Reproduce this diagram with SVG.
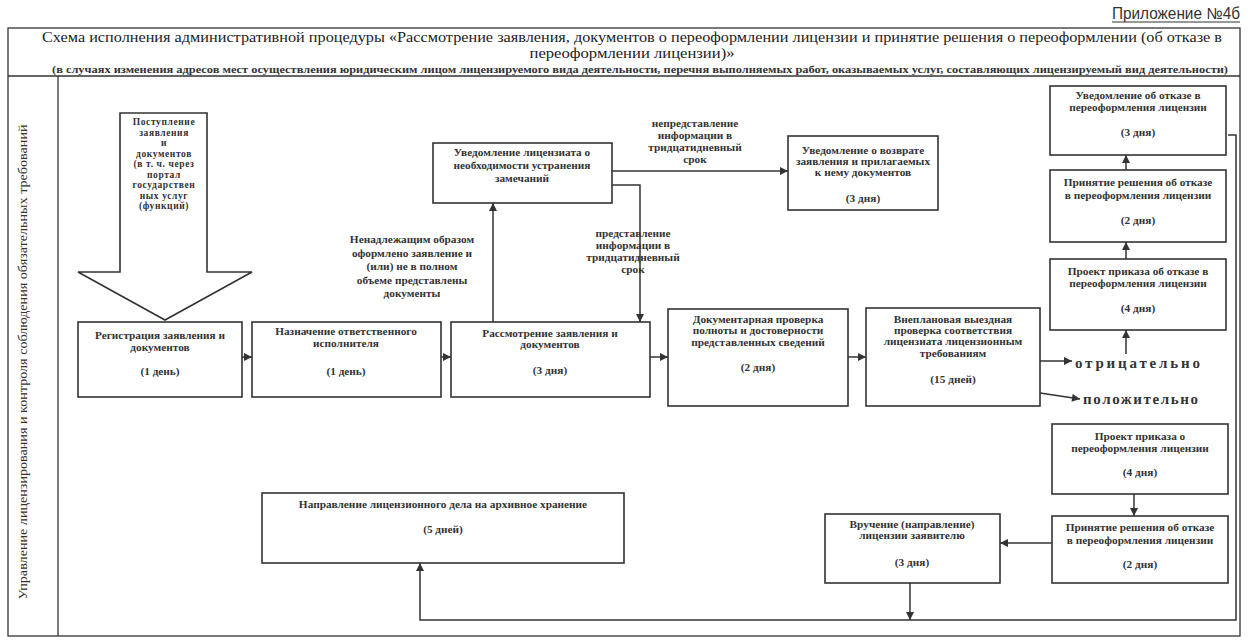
<svg xmlns="http://www.w3.org/2000/svg" width="1248" height="642" viewBox="0 0 1248 642">
<style>
.frame{fill:none;stroke:#333;stroke-width:1.3}
.box{fill:#fff;stroke:#333;stroke-width:1.6}
.sf{font-family:'Liberation Serif','Times New Roman',Times,serif}
.t{font-family:'Liberation Serif','Times New Roman',Times,serif;font-size:11.3px;font-weight:bold;fill:#333;text-anchor:middle}
.ta{font-family:'Liberation Serif','Times New Roman',Times,serif;font-size:9.5px;font-weight:bold;fill:#333;text-anchor:middle;letter-spacing:0.6px}
.big{font-family:'Liberation Serif','Times New Roman',Times,serif;font-size:15px;font-weight:bold;fill:#333}
.c{fill:none;stroke:#333;stroke-width:1.5}
.title{font-family:'Liberation Serif','Times New Roman',Times,serif;font-size:15.5px;fill:#222;text-anchor:middle}
</style>
<defs>
<marker id="ah" viewBox="0 0 10 10" refX="10" refY="5" markerWidth="9" markerHeight="8" markerUnits="userSpaceOnUse" orient="auto"><path d="M0,0 L10,5 L0,10 z" fill="#333"/></marker>
</defs>
<rect width="1248" height="642" fill="#fff"/>

<g id="appendix">
<text x="1240" y="19" font-family="Liberation Sans, Arial, sans-serif" font-size="16" fill="#333" text-anchor="end" textLength="128" lengthAdjust="spacingAndGlyphs">Приложение №4б</text>
<line x1="1112" y1="22" x2="1240" y2="22" stroke="#333" stroke-width="1"/>
</g>

<g id="frame">
<rect class="frame" x="8" y="28" width="1232" height="608"/>
<line class="frame" x1="8" y1="76" x2="1240" y2="76"/>
<line class="frame" x1="58" y1="76" x2="58" y2="636"/>
</g>

<g id="header">
<text class="title" x="632" y="42" textLength="1180" lengthAdjust="spacingAndGlyphs">Схема исполнения административной процедуры «Рассмотрение заявления, документов о переоформлении лицензии и принятие решения о переоформлении (об отказе в</text>
<text class="title" x="632" y="58" textLength="205" lengthAdjust="spacingAndGlyphs">переоформлении лицензии)»</text>
<text class="sf" x="640" y="73" font-size="10.5" font-weight="bold" fill="#333" text-anchor="middle" textLength="1176" lengthAdjust="spacingAndGlyphs">(в случаях изменения адресов мест осуществления юридическим лицом лицензируемого вида деятельности, перечня выполняемых работ, оказываемых услуг, составляющих лицензируемый вид деятельности)</text>
</g>

<g id="lane-label">
<text class="sf" transform="translate(27,362) rotate(-90)" font-size="13.5" fill="#333" text-anchor="middle" textLength="475" lengthAdjust="spacingAndGlyphs">Управление лицензирования и контроля соблюдения обязательных требований</text>
</g>

<g id="connectors">
<path class="c" d="M242,357 H252" marker-end="url(#ah)"/>
<path class="c" d="M441,357 H451" marker-end="url(#ah)"/>
<path class="c" d="M650,357 H668" marker-end="url(#ah)"/>
<path class="c" d="M848,357 H866" marker-end="url(#ah)"/>
<path class="c" d="M493,322 V203" marker-end="url(#ah)"/>
<path class="c" d="M612,171 H788" marker-end="url(#ah)"/>
<path class="c" d="M612,185 H640 V322" marker-end="url(#ah)"/>
<path class="c" d="M1040,361 H1072" marker-end="url(#ah)"/>
<path class="c" d="M1040,393 L1080,399" marker-end="url(#ah)"/>
<path class="c" d="M1126,354 V330" marker-end="url(#ah)"/>
<path class="c" d="M1126,259 V242" marker-end="url(#ah)"/>
<path class="c" d="M1126,170 V155" marker-end="url(#ah)"/>
<path class="c" d="M1228,135 H1236 V620 H420 V563" marker-end="url(#ah)"/>
<path class="c" d="M1134,494 V516" marker-end="url(#ah)"/>
<path class="c" d="M1052,543 H1000" marker-end="url(#ah)"/>
<path class="c" d="M910,583 V620" marker-end="url(#ah)"/>
<g class="t">
<text x="412" y="243">Ненадлежащим образом</text>
<text x="412" y="257">оформлено заявление и</text>
<text x="412" y="270">(или)  не в полном</text>
<text x="412" y="284">объеме представлены</text>
<text x="412" y="297">документы</text>
<text x="695" y="127">непредставление</text>
<text x="695" y="139">информации в</text>
<text x="695" y="151">тридцатидневный</text>
<text x="695" y="163">срок</text>
<text x="633" y="237">представление</text>
<text x="633" y="249">информации в</text>
<text x="633" y="261">тридцатидневный</text>
<text x="633" y="273">срок</text>
</g>
<text class="big" x="1075" y="368" textLength="125" lengthAdjust="spacing">отрицательно</text>
<text class="big" x="1083" y="404" textLength="115" lengthAdjust="spacing">положительно</text>
</g>

<g id="n-incoming">
<polygon class="box" points="120,113 207,113 207,272 252,272 165,320 78,272 120,272"/>
<g class="ta">
<text x="164" y="125">Поступление</text>
<text x="164" y="135.5">заявления</text>
<text x="164" y="146">и</text>
<text x="164" y="156.5">документов</text>
<text x="164" y="167">(в т. ч. через</text>
<text x="164" y="177.5">портал</text>
<text x="164" y="188">государствен</text>
<text x="164" y="198.5">ных услуг</text>
<text x="164" y="209">(функций)</text>
</g>
</g>

<g id="n-registration">
<rect class="box" x="78" y="322" width="164" height="75"/>
<g class="t"><text x="160" y="339">Регистрация заявления и</text><text x="160" y="351">документов</text><text x="160" y="375">(1 день)</text></g>
</g>

<g id="n-assign">
<rect class="box" x="252" y="322" width="189" height="75"/>
<g class="t"><text x="346" y="335">Назначение ответственного</text><text x="346" y="347">исполнителя</text><text x="346" y="375">(1 день)</text></g>
</g>

<g id="n-review">
<rect class="box" x="451" y="322" width="199" height="75"/>
<g class="t"><text x="550" y="337">Рассмотрение заявления и</text><text x="550" y="348">документов</text><text x="550" y="374">(3 дня)</text></g>
</g>

<g id="n-doccheck">
<rect class="box" x="668" y="309" width="180" height="97"/>
<g class="t"><text x="758" y="323">Документарная проверка</text><text x="758" y="334">полноты и достоверности</text><text x="758" y="346">представленных сведений</text><text x="758" y="371">(2 дня)</text></g>
</g>

<g id="n-inspection">
<rect class="box" x="866" y="308" width="174" height="98"/>
<g class="t"><text x="953" y="323">Внеплановая выездная</text><text x="953" y="334">проверка соответствия</text><text x="953" y="345">лицензиата лицензионным</text><text x="953" y="357">требованиям</text><text x="953" y="383">(15 дней)</text></g>
</g>

<g id="n-notify-fix">
<rect class="box" x="433" y="143" width="179" height="60"/>
<g class="t"><text x="522" y="156">Уведомление лицензиата о</text><text x="522" y="169">необходимости устранения</text><text x="522" y="182">замечаний</text></g>
</g>

<g id="n-return">
<rect class="box" x="788" y="136" width="150" height="74"/>
<g class="t"><text x="863" y="154">Уведомление о возврате</text><text x="863" y="165">заявления и прилагаемых</text><text x="863" y="176">к нему документов</text><text x="863" y="202">(3 дня)</text></g>
</g>

<g id="n-refuse-notify">
<rect class="box" x="1050" y="86" width="176" height="69"/>
<g class="t"><text x="1138" y="99">Уведомление об отказе в</text><text x="1138" y="111">переоформления лицензии</text><text x="1138" y="136">(3 дня)</text></g>
</g>

<g id="n-refuse-decision">
<rect class="box" x="1050" y="170" width="176" height="72"/>
<g class="t"><text x="1138" y="186">Принятие решения об отказе</text><text x="1138" y="199">в  переоформления лицензии</text><text x="1138" y="224">(2 дня)</text></g>
</g>

<g id="n-refuse-draft">
<rect class="box" x="1050" y="259" width="176" height="71"/>
<g class="t"><text x="1138" y="275">Проект приказа об отказе в</text><text x="1138" y="287">переоформления лицензии</text><text x="1138" y="312">(4 дня)</text></g>
</g>

<g id="n-reissue-draft">
<rect class="box" x="1052" y="424" width="176" height="70"/>
<g class="t"><text x="1140" y="440">Проект приказа о</text><text x="1140" y="452">переоформления лицензии</text><text x="1140" y="476">(4 дня)</text></g>
</g>

<g id="n-reissue-decision">
<rect class="box" x="1052" y="516" width="176" height="67"/>
<g class="t"><text x="1140" y="531">Принятие решения об отказе</text><text x="1140" y="544">в  переоформления лицензии</text><text x="1140" y="568">(2 дня)</text></g>
</g>

<g id="n-delivery">
<rect class="box" x="825" y="514" width="175" height="69"/>
<g class="t"><text x="912" y="528">Вручение (направление)</text><text x="912" y="539">лицензии заявителю</text><text x="912" y="566">(3 дня)</text></g>
</g>

<g id="n-archive">
<rect class="box" x="262" y="493" width="362" height="70"/>
<g class="t"><text x="443" y="508">Направление лицензионного дела на архивное хранение</text><text x="443" y="533">(5 дней)</text></g>
</g>
</svg>
